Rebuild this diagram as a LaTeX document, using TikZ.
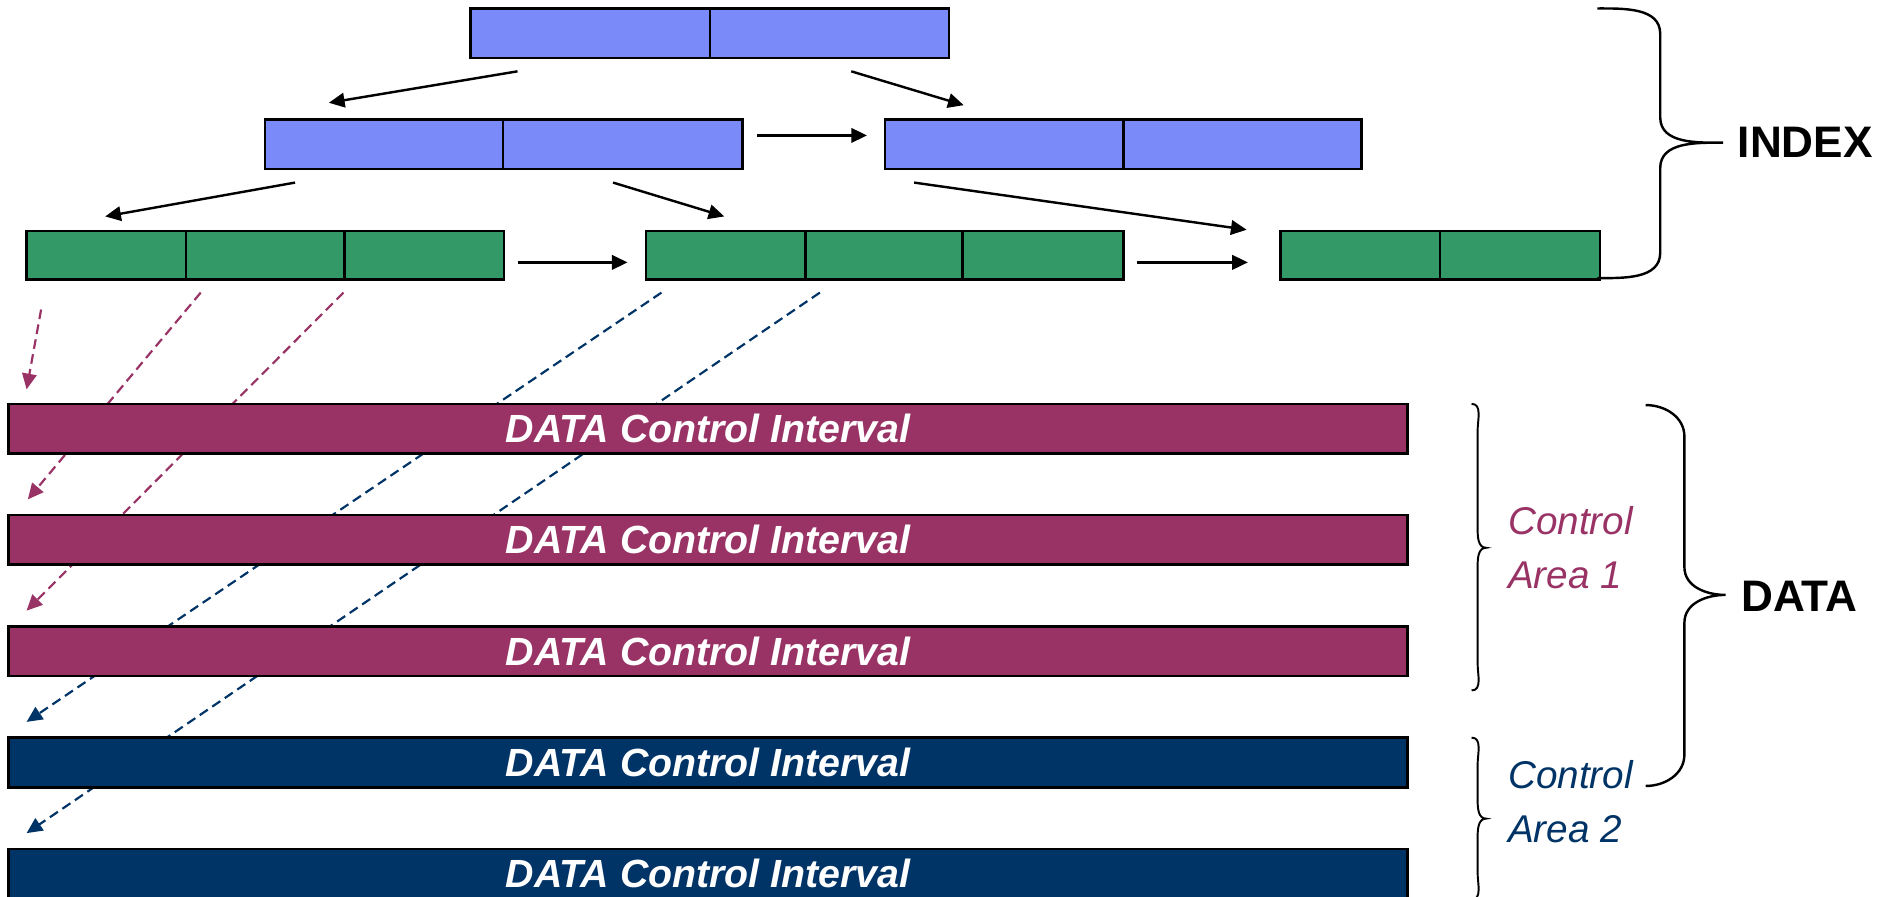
\documentclass[tikz,border=0pt]{standalone}
\usepackage{fontspec}
\setmainfont{Liberation Sans}
\usetikzlibrary{arrows.meta}
\definecolor{idxblue}{HTML}{7A8BF9}
\definecolor{idxgreen}{HTML}{339966}
\definecolor{camaroon}{HTML}{993366}
\definecolor{canavy}{HTML}{003366}
\begin{document}
\begin{tikzpicture}[x=1pt,y=-1pt,
  bcell/.style={draw=black, line width=2pt, fill=idxblue, minimum height=41pt, inner sep=0pt, anchor=north west},
  gcell/.style={draw=black, line width=2pt, fill=idxgreen, minimum height=40pt, inner sep=0pt, anchor=north west},
  treearrow/.style={line width=2pt, -{Triangle[length=13pt,width=12pt]}},
  ptr/.style={line width=1.8pt, dash pattern=on 8pt off 4.5pt, -{Triangle[length=13pt,width=12pt]}},
  databar/.style={draw=black, line width=2.2pt, minimum width=1157pt, minimum height=41pt, inner sep=0pt,
    text=white, font=\fontsize{32.5}{38}\selectfont\bfseries\itshape},
  bracel/.style={line width=2pt, draw=black},
  calabel/.style={align=left, anchor=west, inner sep=0pt, font=\fontsize{32}{45}\selectfont\itshape},
  biglabel/.style={anchor=west, inner sep=0pt, font=\fontsize{36.5}{40}\selectfont\bfseries}
]
\useasboundingbox (0,0) rectangle (1568,741);

% ---------- pointers (dashed) ----------
\coordinate (p1s) at (34,256);  \coordinate (p1e) at (22,322);
\coordinate (p2s) at (166,242); \coordinate (p2e) at (23,413);
\coordinate (p3s) at (284,242); \coordinate (p3e) at (22,505);
\coordinate (p4s) at (547,242); \coordinate (p4e) at (22,597);
\coordinate (p5s) at (678,242); \coordinate (p5e) at (22,689);
\draw[ptr, camaroon] (p1s) -- (p1e);
\draw[ptr, camaroon] (p2s) -- (p2e);
\draw[ptr, camaroon] (p3s) -- (p3e);
\draw[ptr, canavy] (p4s) -- (p4e);
\draw[ptr, canavy] (p5s) -- (p5e);

% ---------- index tree ----------
\node[bcell, minimum width=198pt] (t1) at (388,6) {};
\node[bcell, minimum width=198pt] (t2) at (586,6) {};
\node[bcell, minimum width=197pt] (l1) at (218,98) {};
\node[bcell, minimum width=198pt] (l2) at (415,98) {};
\node[bcell, minimum width=197pt] (r1) at (731,98) {};
\node[bcell, minimum width=197pt] (r2) at (928,98) {};
\node[gcell, minimum width=132pt] (ga1) at (21,190) {};
\node[gcell, minimum width=131pt] (ga2) at (153,190) {};
\node[gcell, minimum width=132pt] (ga3) at (284,190) {};
\node[gcell, minimum width=132pt] (gb1) at (533,190) {};
\node[gcell, minimum width=130pt] (gb2) at (665,190) {};
\node[gcell, minimum width=133pt] (gb3) at (795,190) {};
\node[gcell, minimum width=132pt] (gc1) at (1058,190) {};
\node[gcell, minimum width=132pt] (gc2) at (1190,190) {};

\coordinate (a1s) at (428,59);  \coordinate (a1e) at (272,85);
\coordinate (a2s) at (704,59);  \coordinate (a2e) at (797,87);
\coordinate (a3s) at (626,112); \coordinate (a3e) at (717,112);
\coordinate (a4s) at (244,151); \coordinate (a4e) at (87,179);
\coordinate (a5s) at (507,151); \coordinate (a5e) at (599,179);
\coordinate (a6s) at (756,151); \coordinate (a6e) at (1031,190);
\coordinate (a7s) at (428,217); \coordinate (a7e) at (519,217);
\coordinate (a8s) at (940,217); \coordinate (a8e) at (1032,217);
\foreach \i in {1,...,8} { \draw[treearrow] (a\i s) -- (a\i e); }

% ---------- data bars ----------
\node[databar, fill=camaroon] (d1) at (585.75,354.5) {DATA Control Interval};
\node[databar, fill=camaroon] (d2) at (585.75,446.5) {DATA Control Interval};
\node[databar, fill=camaroon] (d3) at (585.75,538.5) {DATA Control Interval};
\node[databar, fill=canavy] (d4) at (585.75,630.5) {DATA Control Interval};
\node[databar, fill=canavy] (d5) at (585.75,722.5) {DATA Control Interval};

% ---------- braces ----------
% INDEX
\draw[bracel] (1321,7) to[out=0,in=90] (1373,28) -- (1373,97) to[out=-90,in=180] (1425,118)
  to[out=180,in=90] (1373,139) -- (1373,209) to[out=-90,in=0] (1321,230);
\node[biglabel] (idx) at (1437,118) {INDEX};
% DATA
\draw[bracel] (1361,335) to[out=0,in=90] (1393,361) -- (1393,469) to[out=-90,in=180] (1427,492)
  to[out=180,in=90] (1393,515) -- (1393,624) to[out=-90,in=0] (1361,650);
\node[biglabel] (dat) at (1440,493) {DATA};
% Control Area 1
\draw[line width=1.6pt] (1217,334) to[out=0,in=90] (1222,356) -- (1222,438) to[out=-90,in=180] (1229,453)
  to[out=180,in=90] (1222,468) -- (1222,549) to[out=-90,in=0] (1217,571);
\node[calabel, text=camaroon] (ca1) at (1247,453) {Control\\Area 1};
% Control Area 2
\draw[line width=1.6pt] (1217,610) to[out=0,in=90] (1222,632) -- (1222,662) to[out=-90,in=180] (1229,677)
  to[out=180,in=90] (1222,692) -- (1222,722) to[out=-90,in=0] (1217,744);
\node[calabel, text=canavy] (ca2) at (1247,663) {Control\\Area 2};
\end{tikzpicture}
\end{document}
